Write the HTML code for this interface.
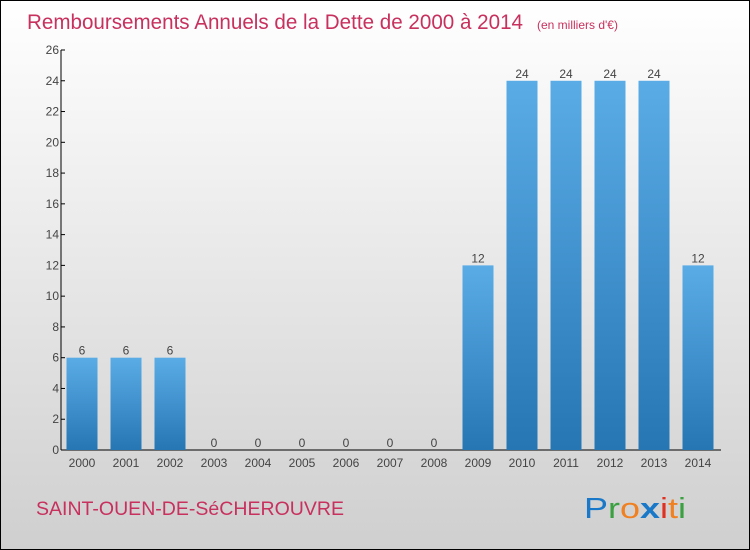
<!DOCTYPE html>
<html><head><meta charset="utf-8"><style>
body{margin:0;}
#c{width:748px;height:548px;border:1px solid #000;background:linear-gradient(#ffffff,#cfcfcf);position:relative;font-family:"Liberation Sans",sans-serif;overflow:hidden}
</style></head><body>
<div id="c">
<svg id="s" width="748" height="548" xmlns="http://www.w3.org/2000/svg">
<defs><linearGradient id="g" x1="0" y1="0" x2="0" y2="1"><stop offset="0" stop-color="#5aace6"/><stop offset="1" stop-color="#2676b4"/></linearGradient></defs>
<text x="26" y="28" font-size="21" fill="#c8305e" textLength="496" lengthAdjust="spacingAndGlyphs">Remboursements Annuels de la Dette de 2000 à 2014</text>
<text x="536" y="28" font-size="12" fill="#c8305e">(en milliers d'€)</text>
<text x="35" y="514" font-size="19" fill="#c8305e" textLength="308" lengthAdjust="spacingAndGlyphs">SAINT-OUEN-DE-SéCHEROUVRE</text>
<text x="583" y="517" font-size="29" font-family="Liberation Sans, sans-serif" textLength="102" lengthAdjust="spacingAndGlyphs"><tspan fill="#1a78c8">P</tspan><tspan fill="#3aa040">r</tspan><tspan fill="#f08020">o</tspan><tspan fill="#1a78c8" font-weight="bold">x</tspan><tspan fill="#e03020">i</tspan><tspan fill="#f08020">t</tspan><tspan fill="#3aa040">i</tspan></text>
<g id="plot"></g>
</svg></div>
<script>
const categories=["2000","2001","2002","2003","2004","2005","2006","2007","2008","2009","2010","2011","2012","2013","2014"];
const values=[6,6,6,0,0,0,0,0,0,12,24,24,24,24,12];
const yTicks=[0,2,4,6,8,10,12,14,16,18,20,22,24,26];
const NS="http://www.w3.org/2000/svg";
const p=document.getElementById('plot');
const y0=449,y1=49,ymax=26,x0=60,step=44,first=81,bw=31;
const ys=v=>y0-(v/ymax)*(y0-y1);
const xs=i=>first+i*step;
function mk(t,a){const e=document.createElementNS(NS,t);for(const k in a)e.setAttribute(k,a[k]);p.appendChild(e);return e;}
let e=mk('line',{x1:x0,y1:y1,x2:x0,y2:y0,stroke:'#000'});

e=mk('line',{x1:x0,y1:y0,x2:720,y2:y0,stroke:'#000'});

yTicks.forEach(v=>{
 let l=mk('line',{x1:x0,y1:ys(v),x2:x0+4,y2:ys(v),stroke:'#000'});
 
 let t=mk('text',{x:x0-2,y:ys(v)+4,'font-size':12,fill:'#444','text-anchor':'end'});t.textContent=v;
 
});
categories.forEach((c,i)=>{
 const v=values[i],x=xs(i);
 if(v>0){let r=mk('rect',{x:x-bw/2,y:ys(v),width:bw,height:y0-ys(v),fill:'url(#g)'});
 }
 let l=mk('text',{x:x,y:ys(v)-3,'font-size':12,fill:'#444','text-anchor':'middle'});l.textContent=v;
 
 let t=mk('text',{x:x,y:466,'font-size':12,fill:'#444','text-anchor':'middle'});t.textContent=c;
 
});
</script>
</body></html>
